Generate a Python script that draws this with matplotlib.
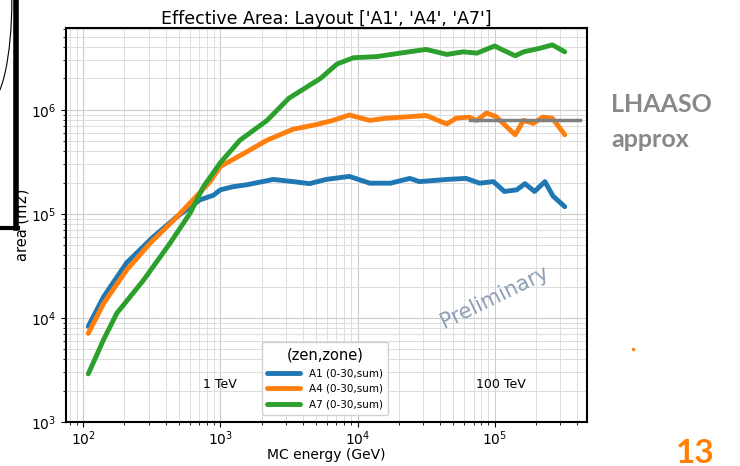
import matplotlib
matplotlib.use("Agg")
import matplotlib.pyplot as plt
from matplotlib.lines import Line2D
from matplotlib.patches import Arc

# ----------------------------
# Data
# ----------------------------
E_A1 = [109, 141, 208, 324, 479, 708, 891, 1000, 1230, 1550, 2430, 3390, 4470, 5890,
        8710, 12300, 17400, 24000, 28200, 44700, 61700, 77600, 97700, 117500, 144500,
        166000, 195000, 232000, 266000, 324000]
A_A1 = [8.3e3, 1.6e4, 3.4e4, 6.0e4, 9.3e4, 1.36e5, 1.51e5, 1.70e5, 1.82e5, 1.90e5, 2.14e5,
        2.04e5, 1.95e5, 2.14e5, 2.29e5, 1.97e5, 1.97e5, 2.19e5, 2.04e5, 2.14e5, 2.19e5,
        1.97e5, 2.04e5, 1.64e5, 1.70e5, 1.95e5, 1.64e5, 2.04e5, 1.48e5, 1.17e5]

E_A4 = [109, 141, 208, 309, 457, 631, 832, 1000, 1480, 2190, 3390, 5010, 6610, 8710,
        12300, 16200, 21400, 31600, 44700, 52500, 64600, 74100, 87100, 102000, 141000,
        162000, 191000, 224000, 263000, 324000]
A_A4 = [7.1e3, 1.38e4, 2.9e4, 5.25e4, 8.7e4, 1.36e5, 2.0e5, 2.85e5, 3.8e5, 5.1e5, 6.5e5,
        7.2e5, 7.9e5, 8.9e5, 7.9e5, 8.3e5, 8.5e5, 8.8e5, 7.3e5, 8.3e5, 8.5e5, 7.9e5,
        9.3e5, 8.6e5, 5.75e5, 7.9e5, 7.4e5, 8.5e5, 8.3e5, 5.75e5]

E_A7 = [109, 141, 176, 275, 431, 603, 752, 1000, 1390, 2190, 3160, 5370, 7080, 9330,
        13800, 20400, 31600, 44700, 58900, 74100, 100000, 112000, 141000, 162000, 214000,
        263000, 324000]
A_A7 = [2.9e3, 6.2e3, 1.11e4, 2.3e4, 5.25e4, 1.02e5, 1.82e5, 3.1e5, 5.1e5, 7.9e5, 1.29e6,
        2.0e6, 2.75e6, 3.16e6, 3.24e6, 3.5e6, 3.8e6, 3.4e6, 3.6e6, 3.5e6, 4.1e6, 3.8e6,
        3.3e6, 3.6e6, 3.9e6, 4.2e6, 3.6e6]

LHAASO_E = [66000, 420000]
LHAASO_A = [8.0e5, 8.0e5]

SERIES = [("A1 (0-30,sum)", E_A1, A_A1, "#1f77b4"),
          ("A4 (0-30,sum)", E_A4, A_A4, "#ff7f0e"),
          ("A7 (0-30,sum)", E_A7, A_A7, "#2ca02c")]

# ----------------------------
# Plot
# ----------------------------
fig = plt.figure(figsize=(7.4, 4.66), dpi=100)
ax = fig.add_axes([0.0892, 0.0944, 0.704, 0.8455])

for label, e, a, c in SERIES:
    ax.plot(e, a, color=c, lw=3.5, label=label, solid_capstyle="round")
ax.plot(LHAASO_E, LHAASO_A, color="#808080", lw=2.5)

ax.set_xscale("log")
ax.set_yscale("log")
ax.set_xlim(75, 4.7e5)
ax.set_ylim(1e3, 6.1e6)
ax.grid(True, which="major", color="#cccccc", lw=0.8)
ax.grid(True, which="minor", color="#dddddd", lw=0.7)
ax.tick_params(labelsize=10)
ax.tick_params(axis="x", pad=2)
for s in ax.spines.values():
    s.set_linewidth(1.5)

ax.set_title("Effective Area: Layout ['A1', 'A4', 'A7']", fontsize=12.5, pad=3)
ax.set_xlabel("MC energy (GeV)", fontsize=10, labelpad=0)
ax.set_ylabel("area (m2)", fontsize=10.5, labelpad=1)

leg = ax.legend(title="(zen,zone)", fontsize=7.5, title_fontsize=10.5,
                loc="lower left", bbox_to_anchor=(0.376, 0.018), borderaxespad=0,
                handlelength=3.2, framealpha=0.9, borderpad=0.5, labelspacing=0.55)
for h in leg.get_lines():
    h.set_linewidth(3.5)

ax.text(1000, 2.3e3, "1 TeV", fontsize=9, ha="center", va="center")
ax.text(1.1e5, 2.3e3, "100 TeV", fontsize=9, ha="center", va="center")
ax.text(0.823, 0.317, "Preliminary", transform=ax.transAxes, fontsize=15,
        color="#8c9db5", rotation=26, ha="center", va="center")

# slide decorations around the chart
fig.text(0.826, 0.738, "LHAASO\napprox", fontsize=18, fontweight="bold",
         color="#888888", family="Lato", ha="left", va="center", linespacing=1.6)
fig.text(0.94, 0.057, "13", fontsize=24, fontweight="bold", color="#ff8000",
         family="Lato", ha="center", va="top")
fig.add_artist(Line2D([0.856], [0.251], marker="o", ms=1.5, color="#ff8000",
                      transform=fig.transFigure))
fig.add_artist(Line2D([0.021, 0.021], [1.0, 0.51], color="black", lw=4,
                      transform=fig.transFigure))
fig.add_artist(Line2D([0.0, 0.024], [0.511, 0.511], color="black", lw=3,
                      transform=fig.transFigure))
fig.add_artist(Arc((-0.015, 1.0), 0.062, 0.44, theta1=-90, theta2=0, color="black",
                   lw=0.8, transform=fig.transFigure))

fig.savefig("out.png", dpi=100)
